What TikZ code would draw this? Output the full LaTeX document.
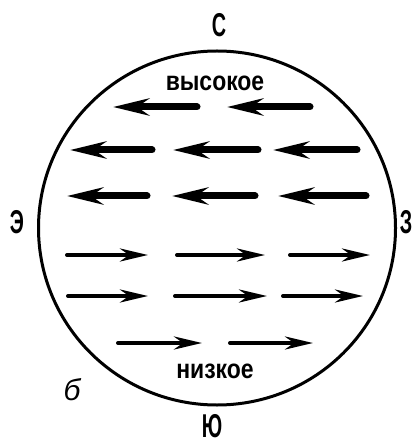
\documentclass[tikz,border=0pt]{standalone}
\usepackage{fontspec}
\usetikzlibrary{arrows.meta}
\setmainfont{Liberation Sans}
\newfontfamily\capfont[FakeStretch=0.6]{Liberation Sans}
\newfontfamily\lblfont[FakeStretch=0.85]{Liberation Sans}
\newfontfamily\itfont{Liberation Sans}
\begin{document}
\begin{tikzpicture}[x=1pt,y=-1pt,
  capstyle/.style={inner sep=0pt,font=\capfont\bfseries\fontsize{33}{33}\selectfont},
  lblstyle/.style={inner sep=0pt,font=\lblfont\bfseries\fontsize{27}{27}\selectfont},
  westarrow/.style={line width=7pt,line cap=round,-{Stealth[length=36pt,width=17pt,inset=12pt]}},
  eastarrow/.style={line width=4pt,line cap=round,-{Stealth[length=28pt,width=13pt,inset=9pt]}}]
\useasboundingbox (0,0) rectangle (415,443);
\draw[line width=3pt] (217,228) ellipse [x radius=178.5, y radius=177];
\node[capstyle] (n) at (219,25) {С};
\node[capstyle] (w) at (17,222) {Э};
\node[capstyle] (e) at (406,222) {З};
\node[capstyle] (s) at (212,426) {Ю};
\node[inner sep=0pt,font=\itfont\itshape\fontsize{30}{30}\selectfont] (b) at (72,390) {б};
\node[lblstyle] (hi) at (215,83) {высокое};
\node[lblstyle] (lo) at (215,371) {низкое};
% row 1
\coordinate (t11) at (197,107); \coordinate (h11) at (113,107);
\coordinate (t12) at (310,107); \coordinate (h12) at (227,107);
% row 2
\coordinate (t21) at (152,150); \coordinate (h21) at (70,150);
\coordinate (t22) at (258,150); \coordinate (h22) at (173,150);
\coordinate (t23) at (357,150); \coordinate (h23) at (273,150);
% row 3
\coordinate (t31) at (147,196); \coordinate (h31) at (67,196);
\coordinate (t32) at (255,196); \coordinate (h32) at (172,196);
\coordinate (t33) at (366,196); \coordinate (h33) at (278,196);
% row 4
\coordinate (t41) at (67,255); \coordinate (h41) at (148,255);
\coordinate (t42) at (177,255); \coordinate (h42) at (265,255);
\coordinate (t43) at (290,255); \coordinate (h43) at (370,255);
% row 5
\coordinate (t51) at (68,296); \coordinate (h51) at (148,296);
\coordinate (t52) at (175,296); \coordinate (h52) at (267,296);
\coordinate (t53) at (283,296); \coordinate (h53) at (363,296);
% row 6
\coordinate (t61) at (118,343); \coordinate (h61) at (202,343);
\coordinate (t62) at (230,343); \coordinate (h62) at (313,343);
\foreach \a in {11,12,21,22,23,31,32,33}
  \draw[westarrow] (t\a) -- (h\a);
\foreach \a in {41,42,43,51,52,53,61,62}
  \draw[eastarrow] (t\a) -- (h\a);
\end{tikzpicture}
\end{document}
